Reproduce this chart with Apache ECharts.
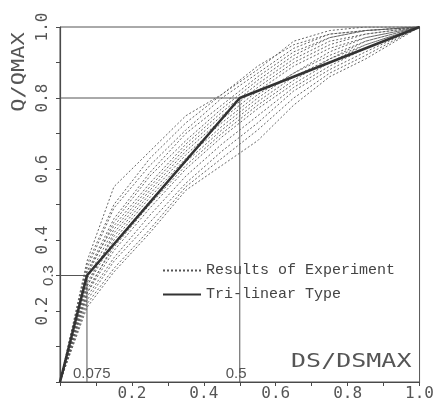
<!DOCTYPE html>
<html>
<head>
<meta charset="utf-8">
<script src="https://cdn.jsdelivr.net/npm/echarts@6/dist/echarts.min.js"></script>
<style>html,body{margin:0;padding:0;background:#fff}#c{width:437px;height:403px}</style>
</head>
<body>
<div id="c"></div>
<script>
// ---- data ----
var xs = [0, 0.075, 0.15, 0.25, 0.35, 0.45, 0.55, 0.65, 0.75, 0.85, 1.0];
var e1  = [0, 0.34, 0.55, 0.65, 0.75, 0.81, 0.88, 0.96, 0.99, 1.00, 1.0];
var e2  = [0, 0.33, 0.50, 0.63, 0.73, 0.81, 0.89, 0.95, 0.98, 0.99, 1.0];
var e3  = [0, 0.32, 0.49, 0.61, 0.71, 0.80, 0.87, 0.94, 0.98, 0.99, 1.0];
var e4  = [0, 0.31, 0.46, 0.59, 0.70, 0.78, 0.86, 0.93, 0.97, 0.99, 1.0];
var e5  = [0, 0.30, 0.45, 0.58, 0.68, 0.77, 0.85, 0.92, 0.97, 0.99, 1.0];
var e6  = [0, 0.31, 0.44, 0.56, 0.67, 0.76, 0.84, 0.91, 0.96, 0.98, 1.0];
var e7  = [0, 0.29, 0.43, 0.55, 0.66, 0.75, 0.83, 0.90, 0.95, 0.98, 1.0];
var e8  = [0, 0.27, 0.42, 0.54, 0.65, 0.74, 0.82, 0.89, 0.94, 0.97, 1.0];
var e9  = [0, 0.28, 0.41, 0.53, 0.64, 0.73, 0.81, 0.87, 0.93, 0.97, 1.0];
var e10 = [0, 0.27, 0.40, 0.52, 0.63, 0.72, 0.80, 0.87, 0.92, 0.96, 1.0];
var e11 = [0, 0.25, 0.39, 0.51, 0.62, 0.71, 0.79, 0.86, 0.91, 0.96, 1.0];
var e12 = [0, 0.26, 0.38, 0.50, 0.61, 0.70, 0.78, 0.85, 0.91, 0.95, 1.0];
var e13 = [0, 0.25, 0.37, 0.49, 0.60, 0.69, 0.77, 0.84, 0.90, 0.95, 1.0];
var e14 = [0, 0.24, 0.35, 0.47, 0.58, 0.67, 0.75, 0.83, 0.89, 0.94, 1.0];
var e15 = [0, 0.23, 0.34, 0.45, 0.56, 0.65, 0.73, 0.82, 0.88, 0.93, 1.0];
var e16 = [0, 0.22, 0.32, 0.43, 0.55, 0.63, 0.71, 0.80, 0.87, 0.92, 1.0];
var e17 = [0, 0.21, 0.31, 0.42, 0.54, 0.61, 0.68, 0.78, 0.86, 0.91, 1.0];
var experiments = [e1, e2, e3, e4, e5, e6, e7, e8, e9, e10, e11, e12, e13, e14, e15, e16, e17];

var triX = [0, 0.075, 0.5, 1.0];
var triY = [0, 0.3, 0.8, 1.0];

var ref1X = [0, 0.075, 0.075];
var ref1Y = [0.3, 0.3, 0];
var ref2X = [0, 0.5, 0.5];
var ref2Y = [0.8, 0.8, 0];

var xTickLabels = ['0.2', '0.4', '0.6', '0.8', '1.0'];
var yTickLabels = ['0.2', '0.4', '0.6', '0.8', '1.0'];

var expName = 'Results of Experiment';
var triName = 'Tri-linear Type';
var xName = 'DS/DSMAX';
var yName = 'Q/QMAX';
// ---- end data ----

function pairs(a, b) { return a.map(function (v, i) { return [v, b[i]]; }); }
function tickFmt(labels) {
  return function (v) {
    for (var i = 0; i < labels.length; i++) {
      if (Math.abs(parseFloat(labels[i]) - v) < 1e-6) return labels[i];
    }
    return '';
  };
}

var ink = '#4a4a4a';
var plotFont = 'DejaVu Sans Mono';

var series = [];
experiments.forEach(function (e) {
  series.push({
    name: expName, type: 'line', data: pairs(xs, e), showSymbol: false, symbol: 'none',
    itemStyle: { color: '#555' },
    lineStyle: { color: '#555', width: 0.9, type: [2, 2] }, z: 2, silent: true
  });
});
series.push({
  name: triName, type: 'line', data: pairs(triX, triY), showSymbol: false, symbol: 'none',
  itemStyle: { color: '#333' },
  lineStyle: { color: '#333', width: 2.6 }, z: 4, silent: true
});
series.push({
  name: 'ref1', type: 'line', data: pairs(ref1X, ref1Y), showSymbol: false, symbol: 'none',
  lineStyle: { color: '#555', width: 1 }, z: 3, silent: true
});
series.push({
  name: 'ref2', type: 'line', data: pairs(ref2X, ref2Y), showSymbol: false, symbol: 'none',
  lineStyle: { color: '#555', width: 1 }, z: 3, silent: true
});

var chart = echarts.init(document.getElementById('c'), null, { renderer: 'canvas' });
chart.setOption({
  animation: false,
  backgroundColor: '#fff',
  grid: { left: 60, right: 17, top: 27, bottom: 21, show: true, borderColor: '#555', borderWidth: 1 },
  legend: {
    data: [expName, triName], orient: 'vertical', left: 157, top: 258,
    itemWidth: 38, itemHeight: 10, itemGap: 9,
    itemStyle: { opacity: 0 },
    textStyle: { fontFamily: 'Liberation Mono', fontSize: 15, color: '#444' },
    selectedMode: false
  },
  xAxis: {
    type: 'value', min: 0, max: 1, interval: 0.1,
    axisLine: { lineStyle: { color: ink, width: 1.2 } },
    axisTick: { show: true, length: 4, lineStyle: { color: ink } },
    axisLabel: { formatter: tickFmt(xTickLabels), margin: 4, fontFamily: plotFont, fontSize: 16, color: '#555', showMinLabel: true, showMaxLabel: true },
    splitLine: { show: false }
  },
  yAxis: {
    type: 'value', min: 0, max: 1, interval: 0.1,
    axisLine: { lineStyle: { color: ink, width: 1.2 } },
    axisTick: { show: true, length: 4, lineStyle: { color: ink } },
    axisLabel: { formatter: tickFmt(yTickLabels), rotate: 90, margin: 9, fontFamily: plotFont, fontSize: 16, color: '#555' },
    splitLine: { show: false }
  },
  series: series
});

function px(x, y) { return chart.convertToPixel({ gridIndex: 0 }, [x, y]); }
var p075 = px(0.075, 0), p05 = px(0.5, 0), p03 = px(0, 0.3), pName = px(0.81, 0);
chart.setOption({
  graphic: [
    { type: 'text', x: p075[0] - 14, y: p075[1] - 16, style: { text: '0.075', font: '15px "Liberation Sans"', fill: '#555' }, silent: true },
    { type: 'text', x: p05[0] - 14, y: p05[1] - 16, style: { text: '0.5', font: '15px "Liberation Sans"', fill: '#555' }, silent: true },
    { type: 'text', x: p03[0] - 11, y: p03[1], rotation: Math.PI / 2, style: { text: '0.3', font: '15px "Liberation Sans"', fill: '#555', align: 'center', verticalAlign: 'middle' }, silent: true },
    { type: 'text', x: pName[0], y: pName[1] - 20, scaleX: 1.25, style: { text: xName, font: '20px "DejaVu Sans Mono"', fill: '#555', align: 'center', verticalAlign: 'middle' }, silent: true },
    { type: 'text', x: 19, y: 72, rotation: Math.PI / 2, scaleX: 1.22, style: { text: yName, font: '18px "DejaVu Sans Mono"', fill: '#555', align: 'center', verticalAlign: 'middle' }, silent: true }
  ]
});
</script>
</body>
</html>
